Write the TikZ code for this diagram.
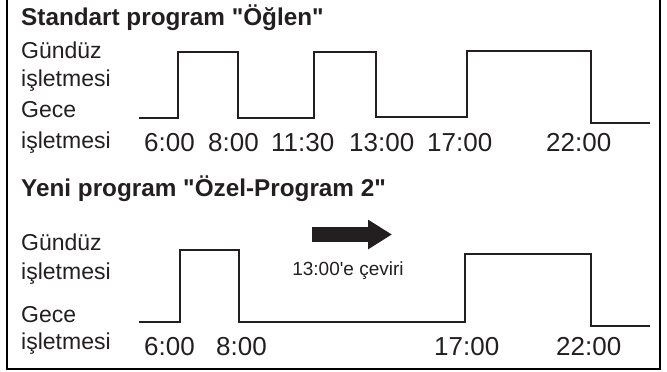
\documentclass[tikz,border=0pt]{standalone}
\usepackage{fontspec}
\setmainfont{Liberation Sans}[Ligatures=TeXOff]
\usepackage{tikz}
\usetikzlibrary{arrows.meta, positioning}
\definecolor{inkcol}{RGB}{35,31,32}
\tikzset{
  wave/.style={line width=2.6pt,inkcol,line join=miter},
  frameline/.style={line width=1.6pt,black},
  titletext/.style={font=\fontsize{24.3}{28}\selectfont\bfseries,anchor=base west,inner sep=0pt,text=inkcol},
  modetext/.style={font=\fontsize{23}{28}\selectfont,anchor=base west,inner sep=0pt,text=inkcol},
  timetext/.style={font=\fontsize{26}{30}\selectfont,anchor=base west,inner sep=0pt,text=inkcol},
  notetext/.style={font=\fontsize{19}{22}\selectfont,anchor=base,inner sep=0pt,text=inkcol},
  shiftarrow/.style={line width=15pt,inkcol,-{Triangle[length=24pt,width=28pt]}},
}

\begin{document}
\begin{tikzpicture}[x=1pt,y=-1pt]
  \useasboundingbox (0,0) rectangle (667,372);
  % Frame, open at the top
  \draw[frameline] (7,0) -- (7,369) -- (660,369) -- (660,0);
  % Standard program
  \node[titletext] (T1) at (21,25) {Standart program "Öğlen"};
  \node[modetext] (D1a) at (21,58)  {Gündüz};
  \node[modetext] (D1b) at (21,86)  {işletmesi};
  \node[modetext] (N1a) at (21,117) {Gece};
  \node[modetext] (N1b) at (21,148) {işletmesi};
  \draw[wave] (139,118) -- (178,118) -- (178,52) -- (238,52) -- (238,118)
    -- (314,118) -- (314,52) -- (376,52) -- (376,117) -- (467,117)
    -- (467,51) -- (591,51) -- (591,123) -- (650,123);
  \foreach \x/\t [count=\i] in {144/6:00, 208/8:00, 271/11:30, 349/13:00, 427/17:00, 546/22:00}
    \node[timetext] (a\i) at (\x,151) {\t};
  % New program
  \node[titletext] (T2) at (21,196) {Yeni program "Özel-Program 2"};
  \node[modetext] (D2a) at (21,250) {Gündüz};
  \node[modetext] (D2b) at (21,279) {işletmesi};
  \node[modetext] (N2a) at (21,322) {Gece};
  \node[modetext] (N2b) at (21,349) {işletmesi};
  \draw[wave] (139,322) -- (180,322) -- (180,250) -- (239,250) -- (239,322)
    -- (465,322) -- (465,254) -- (591,254) -- (591,326) -- (650,326);
  \foreach \x/\t [count=\i] in {144/6:00, 216/8:00, 434/17:00, 556/22:00}
    \node[timetext] (b\i) at (\x,355) {\t};
  % Shift note
  \coordinate (s0) at (312,234.5);
  \coordinate (s1) at (392,234.5);
  \draw[shiftarrow] (s0) -- (s1);
  \node[notetext] (note) at (348,275) {13:00'e çeviri};
\end{tikzpicture}
\end{document}
